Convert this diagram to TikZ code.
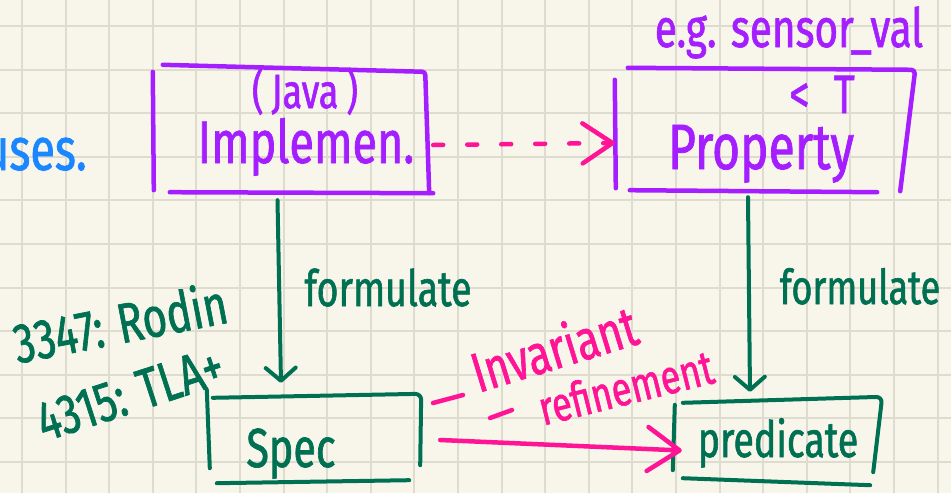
\documentclass[tikz,border=0pt]{standalone}
\usepackage{fontspec}
\setmainfont{Fira Sans}[FakeStretch=0.75, FakeBold=1.2]
\usetikzlibrary{arrows.meta}

\definecolor{paper}{RGB}{248,246,235}
\definecolor{gridc}{RGB}{222,220,207}
\definecolor{penpurple}{RGB}{165,30,255}
\definecolor{penpink}{RGB}{255,20,150}
\definecolor{pengreen}{RGB}{0,112,82}
\definecolor{penblue}{RGB}{25,135,255}

\newcommand{\fs}[1]{\fontsize{#1}{#1}\selectfont}

\tikzset{
  x=1pt, y=-1pt,
  gridline/.style={draw=gridc, line width=2pt},
  pen/.style={line width=4.5pt, line cap=round, line join=round},
  purplepen/.style={pen, draw=penpurple},
  greenpen/.style={pen, draw=pengreen, line width=4pt},
  pinkpen/.style={pen, draw=penpink},
  frame/.style={inner sep=0pt, draw=none},
  hand/.style={inner sep=0pt, anchor=base},
  greenarrow/.style={greenpen, -{Straight Barb[length=13pt,width=30pt,round]}},
}

\begin{document}
\begin{tikzpicture}
  \clip (0,0) rectangle (951,493);
  \fill[paper] (0,0) rectangle (951,493);

  % squared paper
  \foreach \i in {0,...,21} \draw[gridline] ({22+43.6*\i},0) -- ++(0,493);
  \foreach \j in {0,...,10} \draw[gridline] (0,{26+43.6*\j}) -- ++(951,0);

  % frames of the four boxes
  \node[frame, minimum width=277pt, minimum height=124pt] (impl) at (291.5,130) {};
  \node[frame, minimum width=300pt, minimum height=122pt] (prop) at (765,130) {};
  \node[frame, minimum width=214pt, minimum height=86pt] (spec) at (314,439) {};
  \node[frame, minimum width=208pt, minimum height=81pt] (pred) at (778,440.5) {};

  % Implementation box strokes
  \draw[purplepen] ([shift={(0,4)}]impl.north west) -- ([shift={(1,-2)}]impl.south west);
  \draw[purplepen, rounded corners=3pt] ([shift={(10,-3)}]impl.north west) -- ([shift={(-5,4)}]impl.north east)
        -- ([shift={(-1,1)}]impl.south east);
  \draw[purplepen] ([shift={(17,0)}]impl.south west) -- ([shift={(3,1)}]impl.south east);

  % Property box strokes
  \draw[purplepen] ([shift={(0,11)}]prop.north west) -- ([shift={(1,-3)}]prop.south west);
  \draw[purplepen, rounded corners=4pt] ([shift={(13,-1)}]prop.north west) -- ([shift={(0,1)}]prop.north east)
        -- ([shift={(-15,0)}]prop.south east);
  \draw[purplepen] ([shift={(15,-1)}]prop.south west) -- ([shift={(-38,1)}]prop.south east);

  % Spec box strokes
  \draw[greenpen] ([shift={(0,-6)}]spec.north west) -- ([shift={(3,-14)}]spec.south west);
  \draw[greenpen, rounded corners=6pt] ([shift={(6,2)}]spec.north west) -- ([shift={(0,-2)}]spec.north east)
        -- ([shift={(-1,-17)}]spec.south east);
  \draw[greenpen] ([shift={(10,1)}]spec.south west) -- ([shift={(-12,-2)}]spec.south east);

  % predicate box strokes
  \draw[greenpen] ([shift={(1,5)}]pred.north west) -- ([shift={(-1,-11)}]pred.south west);
  \draw[greenpen, rounded corners=6pt] ([shift={(9,3)}]pred.north west) -- ([shift={(0,-3)}]pred.north east)
        -- ([shift={(-9,-9)}]pred.south east);
  \draw[greenpen] ([shift={(9,-3)}]pred.south west) -- ([shift={(-12,4)}]pred.south east);

  % box texts
  \node[hand, text=penpurple, font=\fs{48}] (java) at (305,108) {(\,Java\,)};
  \node[hand, text=penpurple, font=\fs{60}] (impltext) at (306,163) {Implemen.};
  \node[hand, text=penpurple, font=\fs{54}] (example) at (789,47) {e.g. sensor\_val};
  \node[hand, text=penpurple, font=\fs{54}] (bound) at (822,113) {< \hspace{0.25em}T};
  \node[hand, text=penpurple, font=\fs{64}] (proptext) at (761,169) {Property};
  \node[hand, text=pengreen, font=\fs{55}] (spectext) at (291,467) {Spec};
  \node[hand, text=pengreen, font=\fs{50}] (predtext) at (778,457) {predicate};

  % connectors
  \draw[pinkpen, dash pattern=on 10pt off 24pt,
        -{Straight Barb[length=30pt,width=40pt,round]}]
        ([shift={(3,15)}]impl.east) -- ([shift={(0,13)}]prop.west);
  \draw[greenarrow] ([shift={(-14,8)}]impl.south) -- ([shift={(-33,-13)}]spec.north);
  \draw[greenarrow] ([shift={(-17,6)}]prop.south) -- ([shift={(-28,-8)}]pred.north);
  \draw[pinkpen, -{Straight Barb[length=32pt,width=44pt,round]}]
        ([shift={(19,1)}]spec.east) -- ([shift={(8,10)}]pred.west);

  % connector labels
  \node[hand, text=pengreen, font=\fs{50}] (formleft) at (388,306) {formulate};
  \node[hand, text=pengreen, font=\fs{48}] (formright) at (860,304) {formulate};
  \node[hand, text=penpink, font=\fs{56}, rotate=17] (invariant) at (560,368) {Invariant};
  \node[hand, text=penpink, font=\fs{48}, rotate=14] (refinement) at (630,404) {refinement};
  \draw[pinkpen] (433,403) -- (463,395);
  \draw[pinkpen] (490,418) -- (512,410);

  % side notes
  \node[hand, text=pengreen, font=\fs{56}, rotate=11] (rodin) at (124,343) {3347: Rodin};
  \node[hand, text=pengreen, font=\fs{56}, rotate=18] (tla) at (136,412) {4315: TLA+};
  \node[inner sep=0pt, anchor=base west, text=penblue, font=\fs{60}] (uses) at (-17,170) {uses.};
\end{tikzpicture}
\end{document}
